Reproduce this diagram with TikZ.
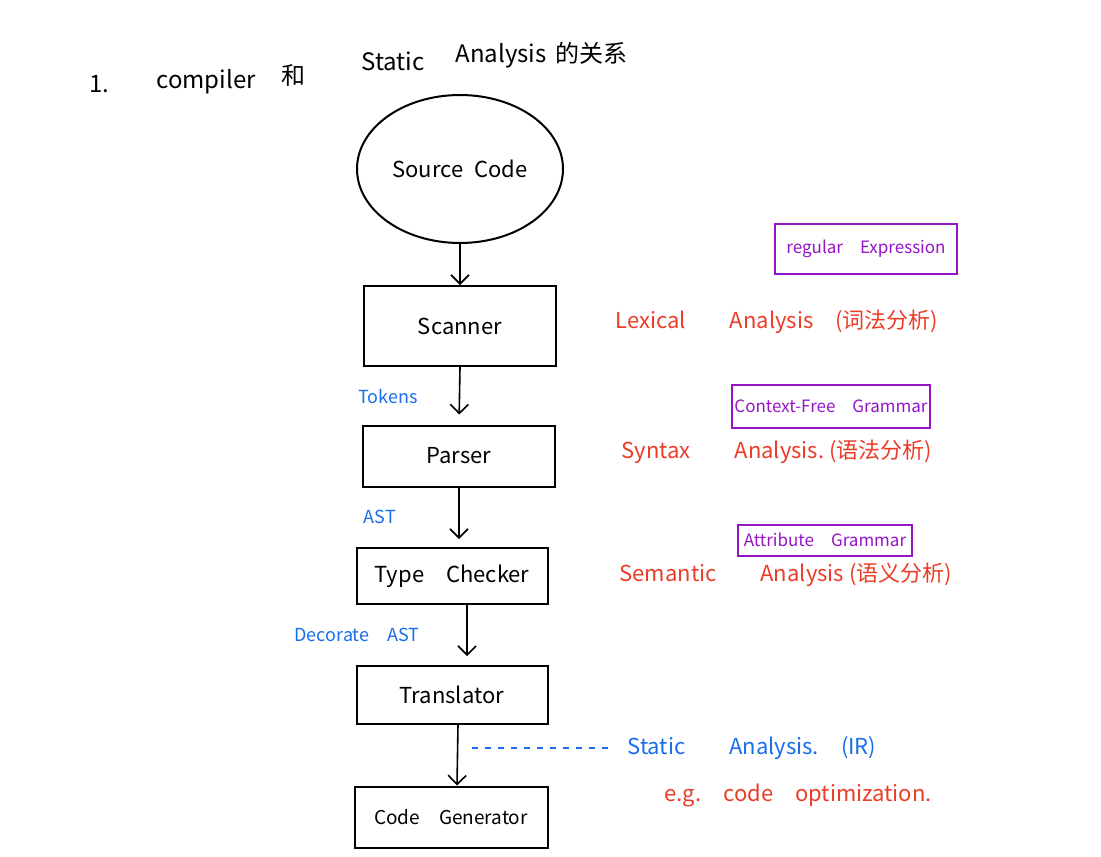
\documentclass[tikz,border=0pt]{standalone}
\usepackage{fontspec}
\setmainfont{Noto Sans CJK SC}
\usetikzlibrary{shapes.geometric,arrows.meta,positioning}
\definecolor{notered}{RGB}{235,60,40}
\definecolor{noteblue}{RGB}{25,110,235}
\definecolor{notepurple}{RGB}{150,20,200}
\tikzset{
  heading/.style={anchor=base west,font=\fontsize{24}{28}\selectfont},
  stage/.style={draw,line width=2pt,minimum width=192pt,minimum height=60pt,font=\fontsize{22}{26}\selectfont},
  flow/.style={-{Straight Barb[length=9pt,width=18pt]},line width=1.6pt},
  flowlabel/.style={text=noteblue,font=\fontsize{18}{22}\selectfont},
  grammar/.style={draw=notepurple,line width=2pt,text=notepurple,inner sep=2pt,font=\fontsize{17}{20}\selectfont},
  phase/.style={anchor=west,text=notered,font=\fontsize{22}{26}\selectfont},
}
\begin{document}
\begin{tikzpicture}[x=1pt,y=-1pt]
  \fill[white] (0,0) rectangle (1101,857);
  % title
  \node[heading] (num) at (86,92) {1.};
  \node[heading] (compiler) at (153,88) {compiler};
  \node[heading] (and) at (278,84) {和};
  \node[heading] (static-word) at (358,70) {Static};
  \node[heading] (analysis-word) at (452,62) {Analysis};
  \node[heading] (relation) at (552,62) {的关系};
  % pipeline
  \node[ellipse,draw,line width=2pt,inner sep=0pt,minimum width=206pt,minimum height=148pt,font=\fontsize{22}{26}\selectfont] (source) at (460,169) {Source\enspace Code};
  \node[stage,minimum height=80pt] (scanner) at (460,326) {Scanner};
  \node[stage,minimum height=61pt] (parser) at (459,456) {Parser};
  \node[stage,minimum width=191pt,minimum height=56pt] (checker) at (452,576) {Type\quad Checker};
  \node[stage,minimum width=191pt,minimum height=58pt] (translator) at (452,695) {Translator};
  \node[stage,minimum width=193pt,minimum height=61pt,font=\fontsize{19}{22}\selectfont] (generator) at (451,817) {Code\quad Generator};
  \draw[flow] (source.south) -- (scanner.north);
  \draw[flow,shorten >=10pt] (scanner.south) -- (parser.north);
  \draw[flow,shorten >=8pt] (parser.south) -- (checker.north -| parser.south);
  \draw[flow,shorten >=9pt] ([xshift=15pt]checker.south) -- ([xshift=15pt]translator.north);
  \draw[flow] ([xshift=6pt]translator.south) -- ([xshift=6pt]generator.north);
  \node[flowlabel] (tokens) at (388,396) {Tokens};
  \node[flowlabel] (ast) at (380,517) {AST};
  \node[flowlabel] (decorated) at (357,635) {Decorate\quad AST};
  % phases
  \node[grammar,minimum width=182pt,minimum height=50pt] (regex) at (866,249) {regular\quad Expression};
  \node[phase] (lexical) at (612,322) {Lexical\qquad Analysis\quad (词法分析)};
  \node[grammar,minimum width=186pt,minimum height=43pt] (cfg) at (831,406) {Context-Free\quad Grammar};
  \node[phase] (syntax) at (618,452) {Syntax\qquad Analysis.\ (语法分析)};
  \node[grammar,minimum width=174pt,minimum height=31pt] (attr) at (825,540) {Attribute\quad Grammar};
  \node[phase] (semantic) at (616,575) {Semantic\qquad Analysis\ (语义分析)};
  \node[phase,text=noteblue] (static) at (624,748) {Static\qquad Analysis.\quad (IR)};
  \node[phase] (example) at (661,795) {e.g.\quad code\quad optimization.};
  \coordinate (ir) at (472,748);
  \draw[noteblue,dash pattern=on 6pt off 7pt,line width=1.5pt,shorten >=12pt] (ir) -- (static.west);
\end{tikzpicture}
\end{document}
